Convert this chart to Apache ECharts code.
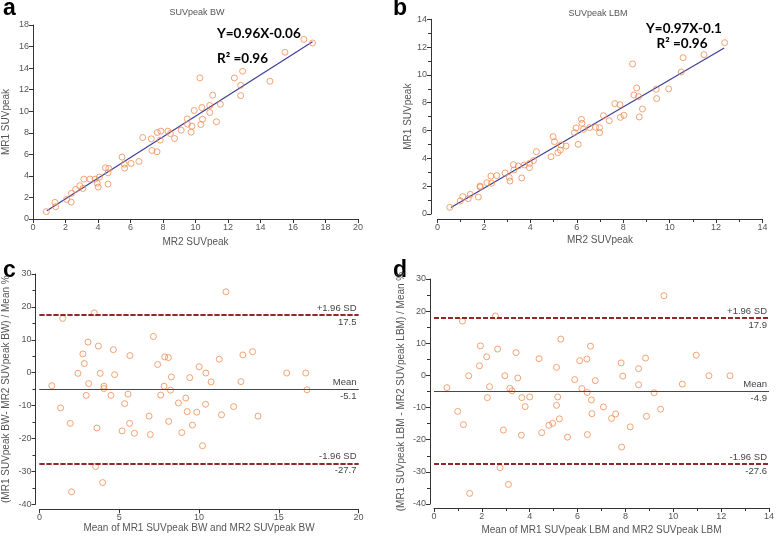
<!DOCTYPE html>
<html>
<head>
<meta charset="utf-8">
<script src="https://cdn.jsdelivr.net/npm/echarts@6/dist/echarts.min.js"></script>
<style>
  html, body { margin: 0; padding: 0; background: #fff; }
  #chart { width: 777px; height: 536px; }
</style>
</head>
<body>
<div id="chart"></div>
<script>
// a: SUVpeak BW, MR2 vs MR1
const bwPoints = [
  [0.82, 0.68], [1.35, 1.54], [1.39, 1.14], [2.07, 1.82], [2.35, 1.57], [2.37, 2.38],
  [2.62, 2.75], [2.88, 3.09], [3.07, 2.84], [3.13, 3.70], [3.50, 3.70], [3.82, 3.70],
  [3.95, 3.33], [4.01, 2.96], [4.09, 3.89], [4.46, 4.75], [4.66, 4.69], [4.62, 4.29],
  [4.62, 3.24], [5.48, 5.74], [5.62, 5.09], [5.64, 4.72], [6.03, 5.16], [6.52, 5.34],
  [6.75, 7.56], [7.28, 7.44], [7.32, 6.36], [7.63, 6.24], [7.65, 8.03], [7.87, 8.15],
  [7.83, 7.32], [8.30, 8.15], [8.45, 7.93], [8.71, 7.47], [9.12, 8.24], [9.49, 9.29],
  [9.51, 8.80], [9.78, 8.61], [9.73, 8.06], [9.92, 10.07], [10.27, 13.09], [10.39, 10.34],
  [10.43, 9.26], [10.33, 8.77], [10.88, 10.53], [10.88, 9.88], [11.06, 11.49], [11.29, 9.02],
  [11.53, 10.65], [12.39, 13.09], [12.78, 12.41], [12.78, 11.45], [12.90, 13.71], [14.58, 12.78],
  [15.50, 15.47], [16.67, 16.67], [17.20, 16.33]
]
const bwFit = [[0.85, 0.76], [17.2, 16.45]]

// b: SUVpeak LBM, MR2 vs MR1
const lbmPoints = [
  [0.53, 0.48], [0.98, 0.94], [1.09, 1.25], [1.32, 1.10], [1.41, 1.41], [1.76, 1.22],
  [1.83, 2.01], [1.84, 1.94], [2.13, 2.25], [2.30, 2.73], [2.33, 2.21], [2.55, 2.76],
  [2.91, 2.95], [3.09, 2.64], [3.12, 2.37], [3.27, 3.55], [3.29, 3.16], [3.48, 3.45],
  [3.63, 2.59], [3.74, 3.52], [3.96, 3.33], [3.97, 3.64], [4.13, 3.84], [4.26, 4.48],
  [4.89, 4.12], [4.98, 5.56], [5.04, 5.20], [5.18, 4.41], [5.29, 4.60], [5.32, 4.96],
  [5.54, 4.89], [5.90, 5.85], [5.97, 6.19], [6.06, 5.01], [6.20, 6.81], [6.22, 6.52],
  [6.29, 6.09], [6.55, 6.21], [6.81, 6.23], [6.98, 6.21], [6.98, 5.85], [7.15, 7.07],
  [7.40, 6.71], [7.64, 7.94], [7.86, 7.86], [7.88, 6.95], [8.03, 7.10], [8.40, 10.79],
  [8.46, 8.56], [8.58, 9.06], [8.66, 8.44], [8.69, 6.98], [8.83, 7.55], [9.42, 8.97],
  [9.44, 8.30], [9.96, 9.00], [10.50, 10.21], [10.58, 11.24], [11.48, 11.46], [12.37, 12.32]
]
const lbmFit = [[0.58, 0.46], [12.35, 11.94]]

// c: Bland-Altman BW
const bwDiff = [
  [0.77, -3.95], [1.32, -10.7], [1.45, 16.5], [1.93, -15.4], [2.01, -36.2], [2.41, -0.2],
  [2.72, 5.7], [2.81, 2.8], [2.93, -6.9], [3.04, 9.3], [3.08, -3.3], [3.43, 18.2],
  [3.52, -28.5], [3.60, -16.8], [3.69, 8.1], [3.81, -0.2], [3.96, -33.4], [4.04, -4.1],
  [4.04, -4.8], [4.48, -6.9], [4.63, 7.0], [4.71, -0.6], [5.34, -9.4], [5.18, -17.7],
  [5.55, -6.5], [5.65, -15.4], [5.67, 5.2], [5.95, -18.4], [6.87, -13.2], [6.95, -18.8],
  [7.14, 11.0], [7.41, 2.5], [7.60, -6.8], [7.81, -4.1], [7.85, 4.8], [8.08, 4.6],
  [8.10, -14.8], [8.21, -5.3], [8.27, -1.3], [8.71, -9.2], [8.92, -18.2], [9.17, -7.7],
  [9.26, -11.8], [9.42, -1.5], [9.59, -15.9], [9.86, -12.0], [10.01, 1.8], [10.22, -22.2],
  [10.41, -9.6], [10.43, -0.1], [10.76, -2.8], [11.27, 4.1], [11.41, -12.8], [11.69, 24.6],
  [12.17, -10.3], [12.63, -2.7], [12.75, 5.4], [13.36, 6.4], [13.70, -13.2], [15.50, -0.1],
  [16.69, -0.1], [16.77, -5.2]
]
const bwLimits = { upper: 17.5, mean: -5.1, lower: -27.7 }

// d: Bland-Altman LBM
const lbmDiff = [
  [0.54, -3.8], [0.99, -11.2], [1.19, 16.9], [1.23, -15.3], [1.45, -0.1], [1.49, -36.7],
  [1.90, 3.0], [1.94, 9.2], [2.20, 5.8], [2.23, -6.9], [2.32, -3.5], [2.57, 18.5],
  [2.66, 8.2], [2.76, -28.7], [2.90, -17.0], [2.96, -0.1], [3.11, -33.9], [3.17, -4.0],
  [3.26, -4.8], [3.43, 7.1], [3.50, -0.8], [3.65, -18.6], [3.67, -6.9], [3.81, -9.7],
  [4.00, -6.7], [4.39, 5.2], [4.50, -17.8], [4.80, -15.5], [4.96, -14.9], [5.12, 2.5],
  [5.12, -9.3], [5.17, -6.7], [5.24, -13.5], [5.30, 11.3], [5.58, -19.2], [5.88, -1.3],
  [6.09, 4.6], [6.18, -4.1], [6.39, 5.1], [6.40, -5.3], [6.41, -18.4], [6.54, 9.1],
  [6.58, -7.6], [6.60, -11.9], [6.74, -1.6], [7.08, -9.8], [7.42, -13.4], [7.59, -12.0],
  [7.82, 3.9], [7.84, -22.3], [7.89, -0.2], [8.20, -16.0], [8.55, 2.1], [8.55, -2.9],
  [8.84, 5.4], [8.88, -12.7], [9.20, -5.4], [9.47, -10.5], [9.61, 24.8], [10.38, -2.7],
  [10.96, 6.3], [11.49, -0.1], [12.37, -0.1]
]
const lbmLimits = { upper: 17.9, mean: -4.9, lower: -27.6 }

const FONT = 'Liberation Sans, Arial, sans-serif'
const ORANGE = '#f08c50'
const BLUE = '#3f3d98'
const RED = '#8c1c1c'

const chart = echarts.init(document.getElementById('chart'))

function axis(min, max, interval, opts) {
  return Object.assign({
    type: 'value',
    min, max, interval,
    nameLocation: 'middle',
    nameTextStyle: { fontFamily: FONT, fontSize: 10, color: '#555' },
    axisLine: { show: true, onZero: false, lineStyle: { color: '#333', width: 1 } },
    axisTick: { show: true, length: 4, lineStyle: { color: '#333' } },
    axisLabel: { fontFamily: FONT, fontSize: 9, color: '#555', margin: 4 },
    splitLine: { show: false },
  }, opts)
}

const minor = { show: true, splitNumber: 2, length: 3, lineStyle: { color: '#333' } }

// hollow circles: transparent fill, thin orange outline
function scatter(idx, data) {
  return {
    type: 'scatter',
    xAxisIndex: idx,
    yAxisIndex: idx,
    data,
    symbol: 'circle',
    symbolSize: 6,
    itemStyle: { color: 'rgba(255,255,255,0)', borderColor: ORANGE, borderWidth: 1 },
    z: 3,
  }
}

function fitLine(idx, data) {
  return {
    type: 'line',
    xAxisIndex: idx,
    yAxisIndex: idx,
    data,
    showSymbol: false,
    lineStyle: { color: BLUE, width: 1.2 },
    z: 2,
  }
}

function limitLines(idx, lim) {
  const lbl = (text, pos) => ({ show: true, formatter: text, position: pos, fontFamily: FONT, fontSize: 9.5, color: '#444', distance: 2 })
  const dashed = { color: RED, width: 1.5, type: [5, 2] }
  const solid = { color: BLUE, width: 1.2, type: 'solid' }
  return {
    type: 'line',
    xAxisIndex: idx,
    yAxisIndex: idx,
    data: [],
    markLine: {
      silent: true,
      symbol: 'none',
      data: [
        { yAxis: lim.upper, lineStyle: dashed, label: lbl('+1.96 SD', 'insideEndTop') },
        { yAxis: lim.upper, lineStyle: dashed, label: lbl(String(lim.upper), 'insideEndBottom') },
        { yAxis: lim.mean, lineStyle: solid, label: lbl('Mean', 'insideEndTop') },
        { yAxis: lim.mean, lineStyle: solid, label: lbl(String(lim.mean), 'insideEndBottom') },
        { yAxis: lim.lower, lineStyle: dashed, label: lbl('-1.96 SD', 'insideEndTop') },
        { yAxis: lim.lower, lineStyle: dashed, label: lbl(String(lim.lower), 'insideEndBottom') },
      ],
    },
  }
}

function text(x, y, str, style) {
  return { type: 'text', x, y, style: Object.assign({ text: str, fontFamily: FONT, fill: '#000' }, style) }
}

const eqStyle = { fontSize: 13.5, fontWeight: 'bold', fontFamily: 'Lato, sans-serif', verticalAlign: 'middle' }

const option = {
  animation: false,
  grid: [
    { left: 32, top: 25, width: 326, height: 194 },
    { left: 437.5, top: 19.3, width: 325, height: 194.7 },
    { left: 39.5, top: 274, width: 319, height: 230.3 },
    { left: 434, top: 279, width: 335, height: 225.3 },
  ],
  xAxis: [
    axis(0, 20, 2, { gridIndex: 0, name: 'MR2 SUVpeak', nameGap: 18 }),
    axis(0, 14, 2, { gridIndex: 1, name: 'MR2 SUVpeak', nameGap: 16, offset: 5, minorTick: minor }),
    axis(0, 20, 5, { gridIndex: 2, name: 'Mean of MR1 SUVpeak BW and MR2 SUVpeak BW', nameGap: 14, offset: 5 }),
    axis(0, 14, 2, { gridIndex: 3, name: 'Mean of MR1 SUVpeak LBM and MR2 SUVpeak LBM', nameGap: 17, offset: 4, minorTick: minor }),
  ],
  yAxis: [
    axis(0, 18, 2, { gridIndex: 0, name: 'MR1 SUVpeak', nameGap: 22 }),
    axis(0, 14, 2, { gridIndex: 1, name: 'MR1 SUVpeak', nameGap: 18, offset: 6.5, minorTick: minor }),
    axis(-40, 30, 10, { gridIndex: 2, name: '(MR1 SUVpeak BW- MR2 SUVpeak BW) / Mean %', nameGap: 24, offset: 4, minorTick: minor }),
    axis(-40, 30, 10, { gridIndex: 3, name: '(MR1 SUVpeak LBM - MR2 SUVpeak LBM) / Mean %', nameGap: 24, offset: 4, minorTick: minor }),
  ],
  series: [
    fitLine(0, bwFit),
    scatter(0, bwPoints),
    fitLine(1, lbmFit),
    scatter(1, lbmPoints),
    limitLines(2, bwLimits),
    scatter(2, bwDiff),
    limitLines(3, lbmLimits),
    scatter(3, lbmDiff),
  ],
  graphic: [
    text(3, -3, 'a', { fontSize: 23, fontWeight: 'bold' }),
    text(393, -3, 'b', { fontSize: 23, fontWeight: 'bold' }),
    text(3, 259, 'c', { fontSize: 23, fontWeight: 'bold' }),
    text(393, 259, 'd', { fontSize: 23, fontWeight: 'bold' }),
    text(197, 13, 'SUVpeak BW', { fontSize: 9, fill: '#555', align: 'center', verticalAlign: 'middle' }),
    text(598, 14, 'SUVpeak LBM', { fontSize: 9, fill: '#555', align: 'center', verticalAlign: 'middle' }),
    text(217, 34, 'Y=0.96X-0.06', eqStyle),
    text(217, 59, 'R\u00b2 =0.96', eqStyle),
    text(684, 29, 'Y=0.97X-0.1', Object.assign({}, eqStyle, { align: 'center' })),
    text(682, 44, 'R\u00b2 =0.96', Object.assign({}, eqStyle, { align: 'center' })),
  ],
}

chart.setOption(option)
</script>
</body>
</html>
